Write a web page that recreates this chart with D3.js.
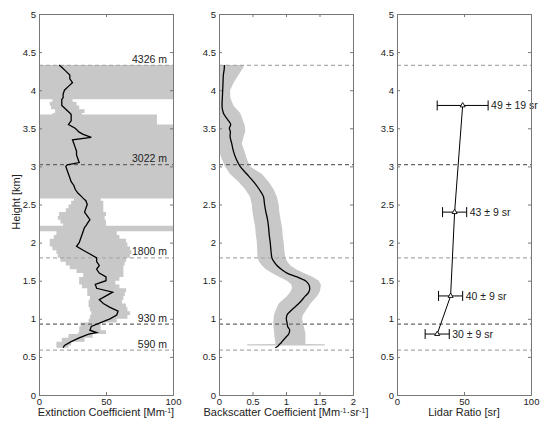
<!DOCTYPE html>
<html><head><meta charset="utf-8">
<script src="https://cdn.jsdelivr.net/npm/d3@7"></script>
<style>
body{margin:0;background:#fff;}
text{font-family:"Liberation Sans",Arial,sans-serif;fill:#222;}
</style></head>
<body><svg id="c" width="540" height="423"></svg>
<script>
// ---- data ----
const extHeights = [0.62,0.65,0.70,0.75,0.80,0.82,0.85,0.90,0.95,1.00,1.05,1.10,1.15,1.20,1.25,1.30,1.35,1.40,1.45,1.50,1.55,1.60,1.65,1.70,1.75,1.80,1.85,1.90,1.95,2.00,2.05,2.10,2.15,2.20,2.22,2.25,2.30,2.35,2.40,2.45,2.50,2.55,2.58,2.60,2.65,2.70,2.75,2.80,2.85,2.90,2.95,3.00,3.02,3.05,3.10,3.15,3.20,3.25,3.30,3.35,3.38,3.42,3.45,3.50,3.55,3.60,3.65,3.68,3.70,3.75,3.80,3.85,3.88,3.90,3.95,4.00,4.05,4.10,4.15,4.20,4.25,4.30,4.33];
const extValues = [18,19,24,30,37,43,38,39,46,53,58,59,53,48,45,50,55,43,42,50,50,45,43,45,43,43,38,33,28,30,31,32,33,34,35,36,38,36,34,35,36,35,33,32,29,27,26,24,23,22,21,20,21,30,29,28,28,27,26,25,39,33,30,27,22,24,24,24,23,20,17,17,17,18,18,19,22,25,23,23,20,17,15];
const extLow = [13,13,17,22,29,30,30,31,37,38,39,38,37,37,38,36,36,32,30,30,33,28,23,20,16,14,13,10,8,8,11,13,0,0,18,16,14,15,20,22,24,26,0,0,0,0,0,0,0,0,0,0,0,0,0,0,0,0,0,0,0,0,0,0,0,0,0,10,12,9,8,10,0,0,0,0,0,0,0,0,0,0,0];
const extHigh = [22,24,34,40,50,50,46,46,58,66,68,66,65,62,63,64,65,60,57,60,63,63,63,64,65,68,69,68,66,65,60,58,100,100,50,50,49,50,48,48,48,46,100,100,100,100,100,100,100,100,100,100,100,100,100,100,100,100,100,100,100,100,100,100,88,88,88,32,34,30,28,25,100,100,100,100,100,100,100,100,100,100,100];

const bscHeights = [0.62,0.65,0.665,0.67,0.70,0.75,0.80,0.85,0.90,0.95,1.00,1.05,1.10,1.20,1.30,1.35,1.40,1.45,1.50,1.55,1.60,1.65,1.70,1.75,1.80,1.90,2.00,2.10,2.20,2.30,2.40,2.50,2.60,2.70,2.80,2.90,3.00,3.10,3.20,3.30,3.40,3.45,3.50,3.55,3.60,3.70,3.80,3.90,4.00,4.10,4.20,4.30,4.33];
const bscValues = [0.84,0.89,0.90,0.91,0.94,0.99,1.04,1.055,1.025,1.015,1.005,1.015,1.065,1.19,1.29,1.34,1.355,1.34,1.29,1.165,1.015,0.93,0.865,0.82,0.79,0.775,0.765,0.75,0.74,0.725,0.70,0.68,0.665,0.60,0.515,0.415,0.315,0.255,0.215,0.19,0.165,0.17,0.155,0.175,0.14,0.065,0.045,0.05,0.055,0.06,0.065,0.08,0.08];
const bscLow = [null,0.42,0.42,0.84,0.84,0.83,0.825,0.82,0.815,0.81,0.815,0.82,0.84,0.89,1.015,1.06,1.09,1.08,1.015,0.90,0.79,0.70,0.64,0.60,0.575,0.57,0.565,0.55,0.54,0.52,0.50,0.49,0.465,0.39,0.29,0.165,0.09,0.04,0,0,0,0,0,0,0,0,0,0,0,0,0,0,0];
const bscHigh = [null,1.58,1.58,1.29,1.29,1.29,1.29,1.28,1.265,1.25,1.24,1.25,1.29,1.365,1.465,1.50,1.515,1.52,1.49,1.40,1.265,1.15,1.065,1.02,0.99,0.975,0.965,0.95,0.94,0.92,0.90,0.89,0.865,0.815,0.74,0.64,0.465,0.415,0.38,0.34,0.37,0.39,0.39,0.38,0.36,0.315,0.215,0.17,0.165,0.22,0.29,0.365,0.365];

const lrHeights = [0.8,1.3,2.4,3.8];
const lrValues = [30,40,43,49];
const lrErrors = [9,9,9,19];
const lrLabels = ["30 \u00b1 9 sr","40 \u00b1 9 sr","43 \u00b1 9 sr","49 \u00b1 19 sr"];

const layerHeights = [4.326,3.022,1.8,0.93,0.59];
const layerLabels = ["4326 m","3022 m","1800 m","930 m","590 m"];
const layerDark = [false,true,false,true,false];

const yTicks = [0,0.5,1,1.5,2,2.5,3,3.5,4,4.5,5];
const extTicks = [0,50,100];
const bscTicks = [0,0.5,1,1.5,2];
const lrTicks = [0,50,100];

// ---- layout ----
const svg = d3.select("#c");
const plotTop = 14, plotBottom = 395, pw = 134;
const y = d3.scaleLinear().domain([0,5]).range([plotBottom, plotTop]);

function panel(left, domain) {
  const x = d3.scaleLinear().domain(domain).range([left, left+pw]).clamp(true);
  const g = svg.append("g");
  return {x, g, left};
}

function frame(p, ticks, labelParts) {
  const {x, g, left} = p;
  const ya = g.append("g").attr("transform",`translate(${left},0)`)
    .call(d3.axisLeft(y).tickValues(yTicks).tickSize(-3).tickPadding(3).tickFormat(d3.format("~g")));
  const yr = g.append("g").attr("transform",`translate(${left+pw},0)`)
    .call(d3.axisRight(y).tickValues(yTicks).tickSize(-3).tickFormat(""));
  const xa = g.append("g").attr("transform",`translate(0,${plotBottom})`)
    .call(d3.axisBottom(x).tickValues(ticks).tickSize(-3).tickPadding(3).tickFormat(d3.format("~g")));
  const xt = g.append("g").attr("transform",`translate(0,${plotTop})`)
    .call(d3.axisTop(x).tickValues(ticks).tickSize(-3).tickFormat(""));
  [ya,yr,xa,xt].forEach(a=>{
    a.selectAll(".domain").attr("stroke","#777").attr("stroke-width",1);
    a.selectAll(".tick line").attr("stroke","#777");
    a.selectAll("text").style("font-size","9.5px").attr("fill","#222");
  });
  const t = g.append("text").attr("x", left+pw/2).attr("y", 416)
    .attr("text-anchor","middle").style("font-size","11px");
  labelParts.forEach(pp=>{
    const ts = t.append("tspan").text(pp.t);
    if (pp.sup) ts.attr("baseline-shift","super").style("font-size","7px");
  });
}

function layers(p, withLabels) {
  const {x, g} = p;
  layerHeights.forEach((h,i)=>{
    g.append("line").attr("x1",x.range()[0]).attr("x2",x.range()[1])
      .attr("y1",y(h)).attr("y2",y(h))
      .attr("stroke", layerDark[i] ? "#666" : "#aaa").attr("stroke-width",1.2)
      .attr("stroke-dasharray","4,3");
    if (withLabels) {
      g.append("text").attr("x", x.range()[1]-6).attr("y", y(h)-2.5)
        .attr("text-anchor","end").style("font-size","10.5px").text(layerLabels[i]);
    }
  });
}

// Panel 1: extinction
const p1 = panel(39, [0,100]);
{
  const d = extHeights.map((h,i)=>({h, v:extValues[i], lo:extLow[i], hi:extHigh[i]}));
  p1.g.append("path").datum(d)
    .attr("d", d3.area().curve(d3.curveStepBefore).y(e=>y(e.h)).x0(e=>p1.x(e.lo)).x1(e=>p1.x(e.hi)))
    .attr("fill","#c8c8c8");
  layers(p1, true);
  p1.g.append("path").datum(d)
    .attr("d", d3.line().x(e=>p1.x(e.v)).y(e=>y(e.h)))
    .attr("fill","none").attr("stroke","#000").attr("stroke-width",1.3);
  frame(p1, extTicks, [{t:"Extinction Coefficient [Mm"},{t:"-1",sup:true},{t:"]"}]);
}

// Panel 2: backscatter
const p2 = panel(219, [0,2]);
{
  const d = bscHeights.map((h,i)=>({h, v:bscValues[i], lo:bscLow[i], hi:bscHigh[i]}));
  p2.g.append("path").datum(d)
    .attr("d", d3.area().defined(e=>e.lo!==null).y(e=>y(e.h)).x0(e=>p2.x(e.lo)).x1(e=>p2.x(e.hi)))
    .attr("fill","#c8c8c8");
  layers(p2, false);
  p2.g.append("path").datum(d)
    .attr("d", d3.line().curve(d3.curveMonotoneY).x(e=>p2.x(e.v)).y(e=>y(e.h)))
    .attr("fill","none").attr("stroke","#000").attr("stroke-width",1.3);
  frame(p2, bscTicks, [{t:"Backscatter Coefficient [Mm"},{t:"-1",sup:true},{t:"\u00b7sr"},{t:"-1",sup:true},{t:"]"}]);
}

// Panel 3: lidar ratio
const p3 = panel(397, [0,100]);
{
  layers(p3, false);
  const d = lrHeights.map((h,i)=>({h, v:lrValues[i], e:lrErrors[i], lab:lrLabels[i]}));
  p3.g.append("path").datum(d)
    .attr("d", d3.line().x(e=>p3.x(e.v)).y(e=>y(e.h)))
    .attr("fill","none").attr("stroke","#000").attr("stroke-width",1);
  const eb = p3.g.selectAll(".eb").data(d).join("g");
  eb.append("line").attr("x1",e=>p3.x(e.v-e.e)).attr("x2",e=>p3.x(e.v+e.e))
    .attr("y1",e=>y(e.h)).attr("y2",e=>y(e.h)).attr("stroke","#000");
  eb.append("line").attr("x1",e=>p3.x(e.v-e.e)).attr("x2",e=>p3.x(e.v-e.e))
    .attr("y1",e=>y(e.h)-5).attr("y2",e=>y(e.h)+5).attr("stroke","#000");
  eb.append("line").attr("x1",e=>p3.x(e.v+e.e)).attr("x2",e=>p3.x(e.v+e.e))
    .attr("y1",e=>y(e.h)-5).attr("y2",e=>y(e.h)+5).attr("stroke","#000");
  eb.append("path").attr("d", d3.symbol(d3.symbolTriangle, 11))
    .attr("transform",e=>`translate(${p3.x(e.v)},${y(e.h)})`)
    .attr("fill","#fff").attr("stroke","#000").attr("stroke-width",0.9);
  eb.append("text").attr("x",e=>p3.x(e.v+e.e)+3).attr("y",e=>y(e.h)).attr("dy","0.35em")
    .style("font-size","10.5px").text(e=>e.lab);
  frame(p3, lrTicks, [{t:"Lidar Ratio [sr]"}]);
}

svg.append("text").attr("transform",`translate(20,202) rotate(-90)`)
  .attr("text-anchor","middle").style("font-size","11px").text("Height [km]");
</script></body></html>
